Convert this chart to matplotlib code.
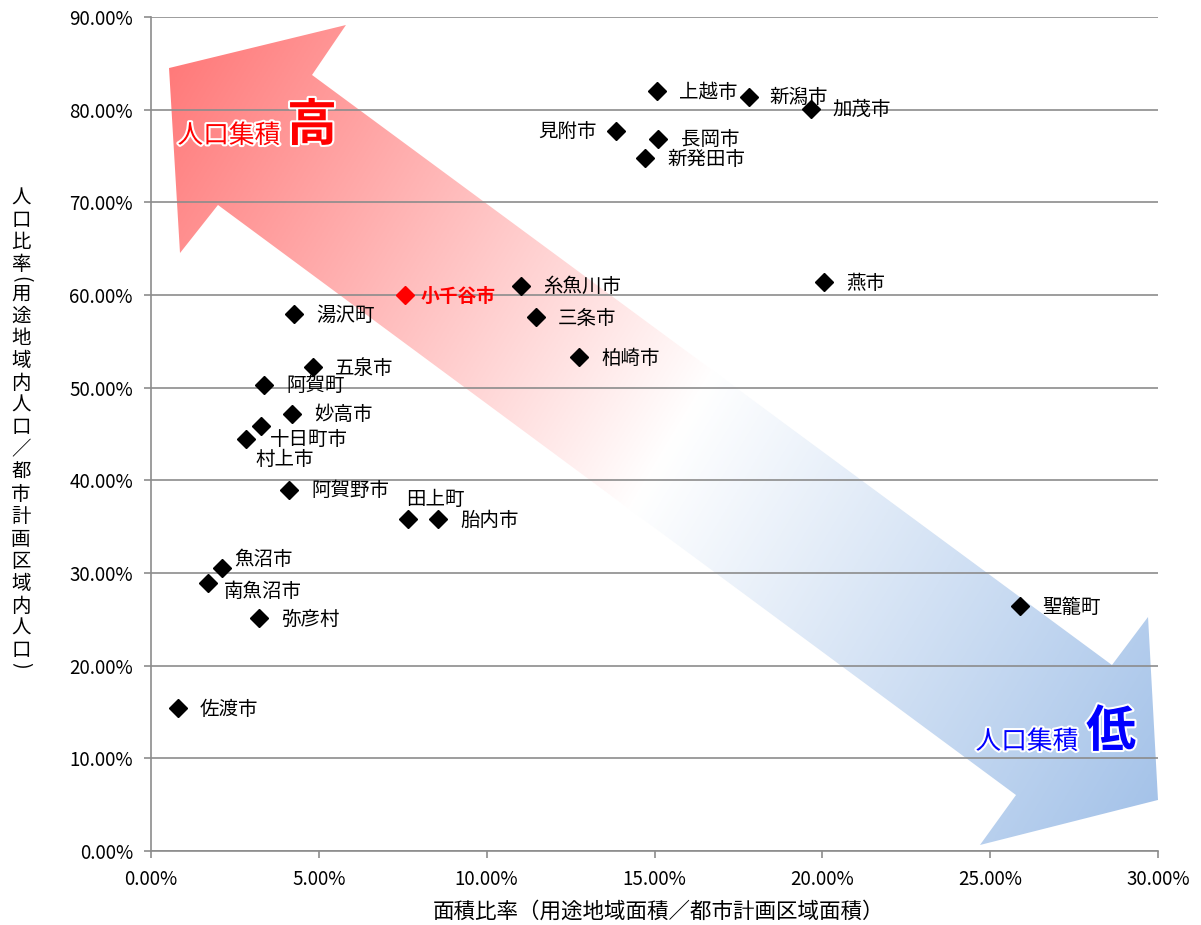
import numpy as np
import matplotlib
matplotlib.use("Agg")
import matplotlib.pyplot as plt
from matplotlib.patches import Polygon
from matplotlib.ticker import FuncFormatter, MultipleLocator
import matplotlib.patheffects as pe

plt.rcParams['font.family'] = ['Noto Sans CJK JP', 'DejaVu Sans']

# data (percent)
cities = ["上越市", "新潟市", "加茂市", "見附市", "長岡市", "新発田市", "燕市",
          "糸魚川市", "小千谷市", "湯沢町", "三条市", "柏崎市", "五泉市", "阿賀町",
          "妙高市", "十日町市", "村上市", "阿賀野市", "田上町", "胎内市", "魚沼市",
          "南魚沼市", "弥彦村", "佐渡市", "聖籠町"]
area_ratio = [15.07, 17.81, 19.66, 13.85, 15.10, 14.72, 20.05,
              11.02, 7.57, 4.26, 11.47, 12.75, 4.83, 3.37,
              4.20, 3.28, 2.83, 4.11, 7.66, 8.55, 2.11,
              1.70, 3.22, 0.80, 25.89]
pop_ratio = [82.0, 81.4, 80.1, 77.7, 76.8, 74.8, 61.4,
             61.0, 60.0, 57.9, 57.6, 53.3, 52.2, 50.3,
             47.2, 45.9, 44.5, 39.0, 35.8, 35.8, 30.5,
             28.9, 25.1, 15.4, 26.4]
highlight = "小千谷市"

x_label = "面積比率（用途地域面積／都市計画区域面積）"
y_label = "人口比率(用途地域内人口／都市計画区域内人口)"

# label placement (pixel offsets, +y is up)
default_off = (22, -1)
label_off = {
    "見附市": (-19, 0), "小千谷市": (15, -1), "十日町市": (9, -14),
    "村上市": (9, -21), "田上町": (-2, 20), "魚沼市": (12, 9),
    "南魚沼市": (16, -8), "新潟市": (21, -1), "長岡市": (23, 0),
    "新発田市": (22, -2),
}

W, H = 1201, 925
fig = plt.figure(figsize=(W / 100, H / 100), dpi=100)
ax = fig.add_axes([151 / W, 1 - 851 / H, 1007 / W, 834 / H])


def fpx(x, y):
    return x / W, 1 - y / H


# gradient double arrow (axes fraction)
arrow_pts = [(0.0179, 0.9388), (0.1936, 0.9904), (0.1599, 0.9305),
             (0.9543, 0.2230), (0.9901, 0.2806), (1.0, 0.0612),
             (0.8232, 0.0072), (0.8590, 0.0671), (0.0665, 0.7746),
             (0.0288, 0.7170)]
n = 500
u, v = np.meshgrid(np.linspace(0, 1, n), np.linspace(1, 0, n))
s = 133 * 1007 * u - 80 * 834 * v
t = (s - (-60239)) / (129875 + 60239)
t = np.clip(t, 0, 1)
red = np.array([255, 122, 122]) / 255
blue = np.array([165, 195, 233]) / 255
wht = np.ones(3)
tm = 0.51
a = np.clip(t / tm, 0, 1)[..., None]
b = np.clip((t - tm) / (1 - tm), 0, 1)[..., None]
img = np.where(t[..., None] < tm, red * (1 - a) + wht * a, wht * (1 - b) + blue * b)
poly = Polygon(arrow_pts, closed=True, transform=ax.transAxes, facecolor='none', edgecolor='none')
ax.add_patch(poly)
im = ax.imshow(img, extent=(0, 1, 0, 1), transform=ax.transAxes, aspect='auto', zorder=0.3)
im.set_clip_path(poly)

# points
for c, xv, yv in zip(cities, area_ratio, pop_ratio):
    col = 'red' if c == highlight else 'black'
    ax.plot(xv, yv, marker='D', ms=9, color=col, linestyle='none', zorder=3)
    dx, dy = label_off.get(c, default_off)
    ax.annotate(c, (xv, yv), xytext=(dx * 0.72, dy * 0.72), textcoords='offset points',
                ha='right' if dx < 0 and c == "見附市" else 'left', va='center',
                fontsize=14 if c != highlight else 13.5, color=col,
                fontweight='bold' if c == highlight else 'normal', zorder=4)

ax.set_xlim(0, 30)
ax.set_ylim(0, 90)
ax.xaxis.set_major_locator(MultipleLocator(5))
ax.yaxis.set_major_locator(MultipleLocator(10))
ax.xaxis.set_major_formatter(FuncFormatter(lambda x, p: f"{x:.2f}%"))
ax.yaxis.set_major_formatter(FuncFormatter(lambda y, p: f"{y:.2f}%"))
ax.set_axisbelow(True)
ax.grid(axis='y', color='#8c8c8c', linewidth=1.2)
for sp in ['top', 'right']:
    ax.spines[sp].set_visible(False)
for sp in ['left', 'bottom']:
    ax.spines[sp].set_color('#8c8c8c')
    ax.spines[sp].set_linewidth(1.2)
ax.tick_params(colors='#8c8c8c', labelcolor='black', length=5, width=1.2, labelsize=13.5)
ax.tick_params(axis='y', pad=8)
ax.tick_params(axis='x', pad=8)

# axis titles
fig.text(*fpx(658, 912), x_label, ha='center', va='center', fontsize=15.5)
# vertical y title, one character per line, brackets turned
yy = 198
prev = None
for ch in y_label:
    if prev is not None:
        yy += 14.5 if (ch in "()" or prev in "()") else 22.3
    if ch in "()":
        fig.text(*fpx(21, yy), ch, ha='center', va='center', fontsize=14,
                 rotation=-90, rotation_mode='anchor')
    else:
        fig.text(*fpx(21, yy), ch, ha='center', va='center', fontsize=14)
    prev = ch

# arrow captions
stroke = [pe.withStroke(linewidth=3, foreground='white')]
fig.text(*fpx(229, 136), "人口集積", ha='center', va='center', fontsize=18.5,
         color='red', path_effects=stroke)
fig.text(*fpx(312, 126), "高", ha='center', va='center', fontsize=36,
         color='red', fontweight='bold', path_effects=stroke)
fig.text(*fpx(1027, 742), "人口集積", ha='center', va='center', fontsize=18.5,
         color='blue', path_effects=stroke)
fig.text(*fpx(1111, 732), "低", ha='center', va='center', fontsize=36,
         color='blue', fontweight='bold', path_effects=stroke)

fig.savefig("out.png", dpi=100)
